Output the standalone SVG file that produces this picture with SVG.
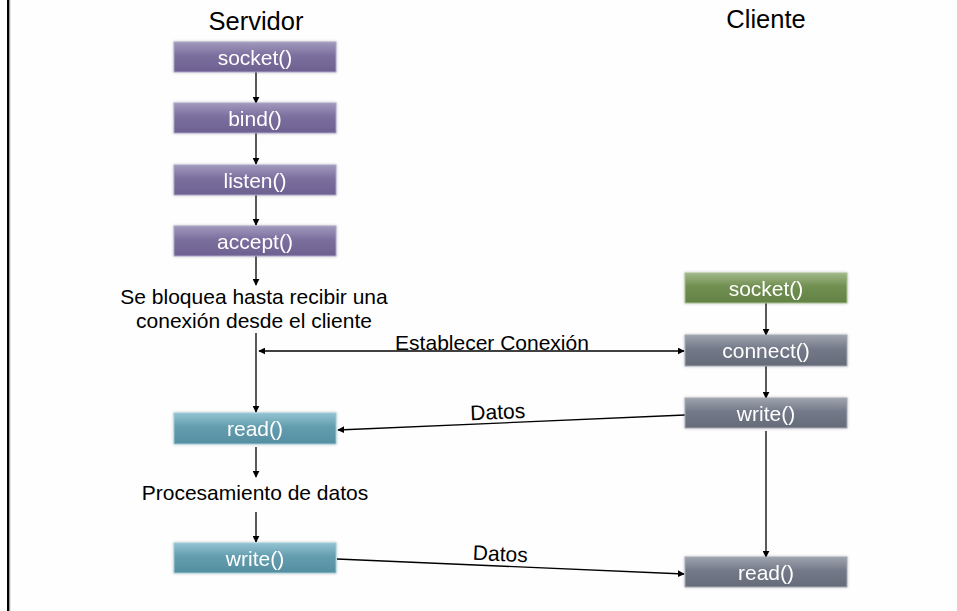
<svg xmlns="http://www.w3.org/2000/svg" width="957" height="611" viewBox="0 0 957 611">
  <style>
    .title { font-family: "Liberation Sans", Arial, sans-serif; font-size: 25.5px; fill: #000; text-anchor: middle; }
    .lbl { font-family: "Liberation Sans", Arial, sans-serif; font-size: 21px; fill: #000; text-anchor: middle; }
    .btxt { font-family: "Liberation Sans", Arial, sans-serif; font-size: 21px; fill: #fff; text-anchor: middle; }
    .edge { stroke: #000; stroke-width: 1.3; fill: none; }
    .box { stroke-width: 1; }
  </style>
  <defs>
    <marker id="arr" viewBox="0 0 10 10" refX="9" refY="5" markerWidth="7" markerHeight="7" orient="auto-start-reverse" markerUnits="userSpaceOnUse">
      <path d="M0,0 L10,5 L0,10 z" fill="#000"/>
    </marker>
    <linearGradient id="gPurple" x1="0" y1="0" x2="0" y2="1">
      <stop offset="0" stop-color="#a199bd"/>
      <stop offset="0.45" stop-color="#7b6f9e"/>
      <stop offset="1" stop-color="#6d6191"/>
    </linearGradient>
    <linearGradient id="gTeal" x1="0" y1="0" x2="0" y2="1">
      <stop offset="0" stop-color="#93c3d2"/>
      <stop offset="0.45" stop-color="#639dae"/>
      <stop offset="1" stop-color="#548ea1"/>
    </linearGradient>
    <linearGradient id="gGray" x1="0" y1="0" x2="0" y2="1">
      <stop offset="0" stop-color="#9ea4ae"/>
      <stop offset="0.45" stop-color="#737988"/>
      <stop offset="1" stop-color="#656b79"/>
    </linearGradient>
    <linearGradient id="gGreen" x1="0" y1="0" x2="0" y2="1">
      <stop offset="0" stop-color="#a0b888"/>
      <stop offset="0.45" stop-color="#708f51"/>
      <stop offset="1" stop-color="#628245"/>
    </linearGradient>
    <filter id="glow" x="-10%" y="-40%" width="120%" height="180%">
      <feGaussianBlur in="SourceAlpha" stdDeviation="1.5"/>
      <feComponentTransfer><feFuncA type="linear" slope="0.25"/></feComponentTransfer>
      <feMerge><feMergeNode/><feMergeNode in="SourceGraphic"/></feMerge>
    </filter>
  </defs>

  <rect x="0" y="0" width="957" height="611" fill="#fefefe"/>
  <!-- left frame edge -->
  <rect x="7" y="0" width="2.2" height="611" fill="#000"/>
  <rect x="9.2" y="0" width="1" height="611" fill="#8a8a8a"/>

  <text class="title" x="256" y="30">Servidor</text>
  <text class="title" x="766" y="28">Cliente</text>

  <!-- connectors -->
  <g id="connectors">
    <line class="edge" x1="256" y1="72" x2="256" y2="103" marker-end="url(#arr)"/>
    <line class="edge" x1="256" y1="133" x2="256" y2="164" marker-end="url(#arr)"/>
    <line class="edge" x1="256" y1="195" x2="256" y2="225" marker-end="url(#arr)"/>
    <line class="edge" x1="256" y1="256" x2="256" y2="285" marker-end="url(#arr)"/>
    <line class="edge" x1="256" y1="333" x2="256" y2="412" marker-end="url(#arr)"/>
    <line class="edge" x1="259" y1="351" x2="684" y2="351" marker-start="url(#arr)" marker-end="url(#arr)"/>
    <line class="edge" x1="256" y1="447" x2="256" y2="477" marker-end="url(#arr)"/>
    <line class="edge" x1="256" y1="512" x2="256" y2="542" marker-end="url(#arr)"/>
    <line class="edge" x1="766" y1="303" x2="766" y2="335" marker-end="url(#arr)"/>
    <line class="edge" x1="766" y1="366" x2="766" y2="398" marker-end="url(#arr)"/>
    <line class="edge" x1="766" y1="431" x2="766" y2="557" marker-end="url(#arr)"/>
    <line class="edge" x1="685" y1="415" x2="338" y2="430" marker-end="url(#arr)"/>
    <line class="edge" x1="337" y1="559" x2="684" y2="574" marker-end="url(#arr)"/>
  </g>

  <!-- connector labels -->
  <text class="lbl" x="492" y="350">Establecer Conexión</text>
  <text class="lbl" x="498" y="419" transform="rotate(-2.4 498 419)">Datos</text>
  <text class="lbl" x="500" y="561" transform="rotate(2.4 500 561)">Datos</text>
  <text class="lbl" x="254" y="304">Se bloquea hasta recibir una</text>
  <text class="lbl" x="254" y="328">conexión desde el cliente</text>
  <text class="lbl" x="255" y="500">Procesamiento de datos</text>

  <!-- server nodes -->
  <g id="srv-socket" filter="url(#glow)">
    <rect class="box" x="174" y="42" width="162" height="30" fill="url(#gPurple)" stroke="#aca4c7"/>
    <text class="btxt" x="255" y="64.5">socket()</text>
  </g>
  <g id="srv-bind" filter="url(#glow)">
    <rect class="box" x="174" y="103" width="162" height="30" fill="url(#gPurple)" stroke="#aca4c7"/>
    <text class="btxt" x="255" y="125.5">bind()</text>
  </g>
  <g id="srv-listen" filter="url(#glow)">
    <rect class="box" x="174" y="165" width="162" height="30" fill="url(#gPurple)" stroke="#aca4c7"/>
    <text class="btxt" x="255" y="187.5">listen()</text>
  </g>
  <g id="srv-accept" filter="url(#glow)">
    <rect class="box" x="174" y="226" width="162" height="30" fill="url(#gPurple)" stroke="#aca4c7"/>
    <text class="btxt" x="255" y="248.5">accept()</text>
  </g>
  <g id="srv-read" filter="url(#glow)">
    <rect class="box" x="174" y="413" width="162" height="31" fill="url(#gTeal)" stroke="#9ccbd8"/>
    <text class="btxt" x="255" y="436">read()</text>
  </g>
  <g id="srv-write" filter="url(#glow)">
    <rect class="box" x="174" y="543" width="162" height="30" fill="url(#gTeal)" stroke="#9ccbd8"/>
    <text class="btxt" x="255" y="565.5">write()</text>
  </g>

  <!-- client nodes -->
  <g id="cli-socket" filter="url(#glow)">
    <rect class="box" x="685" y="273" width="162" height="30" fill="url(#gGreen)" stroke="#a8c092"/>
    <text class="btxt" x="766" y="295.5">socket()</text>
  </g>
  <g id="cli-connect" filter="url(#glow)">
    <rect class="box" x="685" y="335" width="162" height="31" fill="url(#gGray)" stroke="#a4a9b3"/>
    <text class="btxt" x="766" y="358">connect()</text>
  </g>
  <g id="cli-write" filter="url(#glow)">
    <rect class="box" x="685" y="398" width="162" height="30" fill="url(#gGray)" stroke="#a4a9b3"/>
    <text class="btxt" x="766" y="420.5">write()</text>
  </g>
  <g id="cli-read" filter="url(#glow)">
    <rect class="box" x="685" y="557" width="162" height="30" fill="url(#gGray)" stroke="#a4a9b3"/>
    <text class="btxt" x="766" y="579.5">read()</text>
  </g>
</svg>
